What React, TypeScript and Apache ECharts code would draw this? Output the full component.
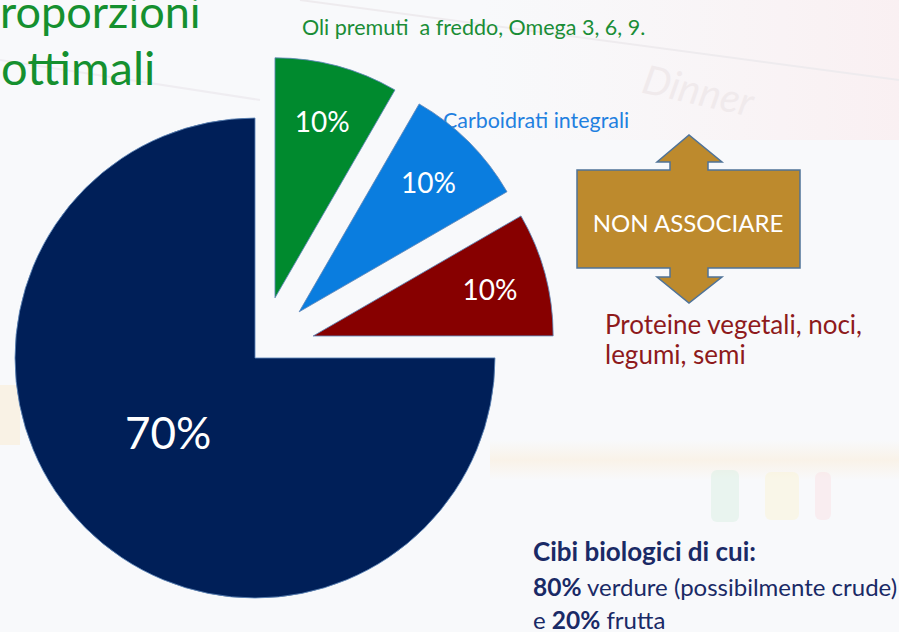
import React, { useEffect, useRef } from "react";
import * as echarts from "echarts";

// ---- data ----
const sliceNames = ["Oli", "Carboidrati", "Proteine", "Base"];
// share of the circle each slice occupies in the drawing
const sliceShares = [8.33, 8.33, 8.33, 75];
// printed data labels
const sliceLabels = ["10%", "10%", "10%", "70%"];
const sliceColors = ["#008a2e", "#0a7ddf", "#870000", "#001f58"];
const sliceExploded = [true, true, true, false];

const titleLines = ["roporzioni", "ottimali"];
const noteOli = "Oli premuti  a freddo, Omega 3, 6, 9.";
const noteCarbo = "Carboidrati integrali";
const noteProteine = ["Proteine vegetali, noci,", "legumi, semi"];
const arrowText = "NON ASSOCIARE";
const bioLines = [
  "{h|Cibi biologici di cui:}",
  "{b|80%}{n| verdure (possibilmente crude)}",
  "{n|e }{b|20%}{n| frutta}",
];

const FONT = "Lato, 'Open Sans', 'DejaVu Sans', sans-serif";
const TRANSPARENT = "rgba(0,0,0,0)";
const EDGE = "rgba(95,135,185,0.85)";

export default function App() {
  const ref = useRef<HTMLDivElement>(null);

  useEffect(() => {
    if (!ref.current) return;
    const chart = echarts.init(ref.current, undefined, { renderer: "svg" });

    const baseData = sliceNames.map((n, i) => ({
      name: n,
      value: sliceShares[i],
      itemStyle: sliceExploded[i]
        ? { color: TRANSPARENT, borderWidth: 0 }
        : { color: sliceColors[i], borderColor: EDGE, borderWidth: 1 },
      label: { show: !sliceExploded[i] },
    }));

    const explodedData = sliceNames.map((n, i) => ({
      name: n,
      value: sliceShares[i],
      selected: sliceExploded[i],
      itemStyle: sliceExploded[i]
        ? { color: sliceColors[i], borderColor: EDGE, borderWidth: 1 }
        : { color: TRANSPARENT, borderWidth: 0 },
      select: {
        itemStyle: sliceExploded[i]
          ? { color: sliceColors[i], borderColor: EDGE, borderWidth: 1 }
          : { color: TRANSPARENT, borderWidth: 0 },
      },
      label: { show: false },
    }));

    const labelRingData = sliceNames.map((n, i) => ({
      name: n,
      value: sliceShares[i],
      selected: sliceExploded[i],
      itemStyle: { color: TRANSPARENT, borderWidth: 0 },
      select: { itemStyle: { color: TRANSPARENT, borderWidth: 0 } },
      label: { show: sliceExploded[i] },
    }));

    const common = {
      type: "pie" as const,
      startAngle: 90,
      clockwise: true,
      avoidLabelOverlap: false,
      minShowLabelAngle: 0,
      labelLine: { show: false },
      emphasis: { disabled: true },
      animation: false,
    };

    const arrowPts = [
      [577, 170], [670, 170], [670, 162], [657, 162], [689, 135], [722, 162],
      [708, 162], [708, 170], [800, 170], [800, 268], [708, 268], [708, 277],
      [722, 277], [689, 303], [657, 277], [670, 277], [670, 268], [577, 268],
    ];

    chart.setOption({
      animation: false,
      backgroundColor: "#f8f9fb",
      graphic: [
        // faint background picture hints
        { type: "rect", z: -5, shape: { x: 480, y: 0, width: 419, height: 140 },
          style: { fill: new echarts.graphic.LinearGradient(0, 0, 1, 0, [
            { offset: 0, color: "rgba(250,240,242,0)" },
            { offset: 1, color: "rgba(250,236,238,0.7)" }]) } },
        { type: "line", z: -4, shape: { x1: 300, y1: 0, x2: 899, y2: 80 },
          style: { stroke: "#eeebee", lineWidth: 2 } },
        { type: "line", z: -4, shape: { x1: 0, y1: 60, x2: 260, y2: 100 },
          style: { stroke: "#efedf1", lineWidth: 2 } },
        { type: "text", z: -4, x: 648, y: 58, rotation: -0.22,
          style: { text: "Dinner", fill: "#f0eaec", fontSize: 40, fontFamily: FONT, fontStyle: "italic" } },
        { type: "rect", z: -5, shape: { x: 490, y: 440, width: 409, height: 40 },
          style: { fill: new echarts.graphic.LinearGradient(0, 0, 0, 1, [
            { offset: 0, color: "rgba(250,238,220,0)" },
            { offset: 0.5, color: "rgba(250,238,220,0.6)" },
            { offset: 1, color: "rgba(250,238,220,0)" }]) } },
        { type: "rect", z: -5, shape: { x: 0, y: 385, width: 20, height: 60 },
          style: { fill: "rgba(250,236,215,0.6)" } },
        { type: "rect", z: -4, shape: { x: 711, y: 470, width: 28, height: 52, r: 6 },
          style: { fill: "rgba(210,238,222,0.4)" } },
        { type: "rect", z: -4, shape: { x: 765, y: 472, width: 34, height: 48, r: 6 },
          style: { fill: "rgba(250,242,206,0.4)" } },
        { type: "rect", z: -4, shape: { x: 815, y: 472, width: 16, height: 48, r: 6 },
          style: { fill: "rgba(250,220,226,0.4)" } },

        // title
        { type: "text", x: 0, y: 11,
          style: { text: titleLines[0], fill: "#15902f", fontSize: 45, fontFamily: FONT, verticalAlign: "middle" } },
        { type: "text", x: 1, y: 67,
          style: { text: titleLines[1], fill: "#15902f", fontSize: 47, fontFamily: FONT, verticalAlign: "middle" } },

        // notes
        { type: "text", x: 302, y: 27,
          style: { text: noteOli, fill: "#1a8d36", fontSize: 21.5, fontFamily: FONT, verticalAlign: "middle" } },
        { type: "text", x: 443, y: 120,
          style: { text: noteCarbo, fill: "#1f80e0", fontSize: 21.4, fontFamily: FONT, verticalAlign: "middle" } },
        { type: "text", x: 605, y: 324,
          style: { text: noteProteine[0], fill: "#8e1a1c", fontSize: 26, fontFamily: FONT, verticalAlign: "middle" } },
        { type: "text", x: 605, y: 354,
          style: { text: noteProteine[1], fill: "#8e1a1c", fontSize: 26, fontFamily: FONT, verticalAlign: "middle" } },

        // double arrow
        { type: "polygon", shape: { points: arrowPts },
          style: { fill: "#bd8a2d", stroke: "#4f7398", lineWidth: 1.5 } },
        { type: "text", x: 688, y: 222,
          style: { text: arrowText, fill: "#ffffff", fontSize: 24, fontFamily: FONT, align: "center", verticalAlign: "middle" } },

        // bio note
        ...bioLines.map((t, i) => ({
          type: "text", x: 533, y: [551, 586, 619][i],
          style: {
            text: t, fontFamily: FONT, verticalAlign: "middle",
            rich: {
              h: { fontSize: 26, fontWeight: "bold", fill: "#1a2a66", fontFamily: FONT },
              b: { fontSize: 24.5, fontWeight: "bold", fill: "#1a2a66", fontFamily: FONT },
              n: { fontSize: 24, fill: "#1a2a66", fontFamily: FONT },
            },
          },
        })),
      ],
      series: [
        {
          ...common,
          name: "base",
          silent: true,
          center: [255, 358],
          radius: 240,
          label: {
            show: true, position: "inside", color: "#ffffff", fontSize: 44, fontFamily: FONT,
            offset: [0, -13],
            formatter: (p: any) => sliceLabels[p.dataIndex],
          },
          data: baseData,
        },
        {
          ...common,
          name: "exploded",
          center: [261, 350],
          radius: 240,
          selectedMode: "multiple",
          selectedOffset: 54,
          label: { show: false },
          data: explodedData,
        },
        {
          ...common,
          name: "labels",
          silent: true,
          center: [261, 350],
          radius: [120, 240],
          selectedMode: "multiple",
          selectedOffset: 54,
          label: {
            show: true, position: "inside", color: "#ffffff", fontSize: 28, fontFamily: FONT,
            formatter: (p: any) => sliceLabels[p.dataIndex],
          },
          data: labelRingData,
        },
      ],
    });

    return () => chart.dispose();
  }, []);

  return (
    <div
      ref={ref}
      style={{ position: "fixed", left: 0, top: 0, width: 899, height: 632 }}
    />
  );
}
